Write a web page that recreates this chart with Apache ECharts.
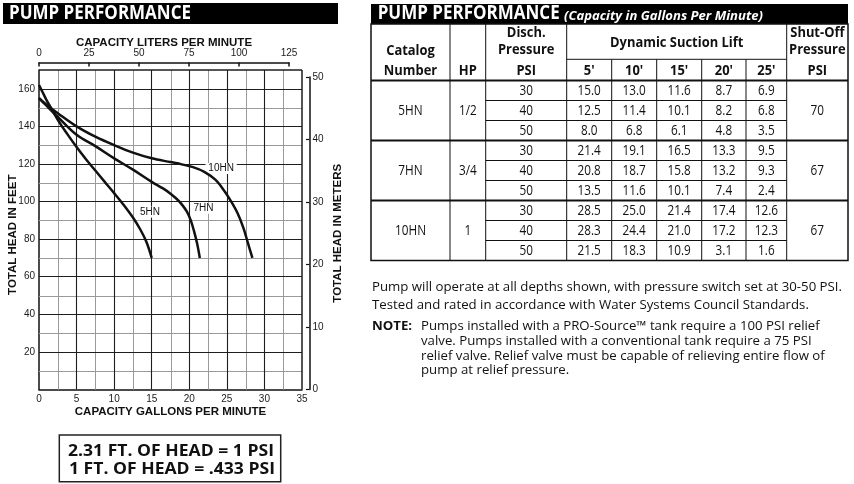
<!DOCTYPE html>
<html><head><meta charset="utf-8">
<script src="https://cdn.jsdelivr.net/npm/echarts@6/dist/echarts.min.js"></script>
<style>html,body{margin:0;padding:0;background:#fff}#c{width:854px;height:484px}</style>
</head><body><div id="c"></div>
<script>
// ---------------- DATA ----------------
// Pump curves: [gallons per minute, total head in feet]
const curve5HN = [[0,162],[0.5,158],[1,154],[1.5,150.5],[2.5,143.5],[3.75,136],[5,129],[6.25,122.5],[7.5,116.5],[8.75,110.5],[10,104.5],[11.25,98.3],[12.5,91.5],[13.5,85],[14.3,78.5],[15,70]];
const curve7HN = [[0,155],[1,151],[2.5,145],[5,135.5],[7.5,129.5],[10,123],[12.5,117],[15,110.5],[16.5,107],[17.5,104.2],[18.3,101.5],[19,98.5],[19.7,94.5],[20.2,90],[20.65,84],[21.05,77.5],[21.4,70]];
const curve10HN = [[0,155],[1,151.5],[2.5,147],[5,140],[7.5,134.5],[10,130],[12.5,126],[15,123],[17.5,121],[19,119.8],[20.5,118.3],[22,115.8],[23.5,111.5],[24.6,106],[25.5,100.5],[26.4,94],[27.2,86],[27.8,78],[28.4,70]];
const curveNames = ['5HN','7HN','10HN'];
const curveLabelAt = [[14.77,94.4],[21.9,96.4],[24.24,117.6]];
// Axis ticks
const gpmMax = 35, gpmStep = 5;
const feetMax = 170, feetStep = 20;
const meterMax = 50, meterStep = 10;
const literMax = 125, literStep = 25;

// Table
const chartTitle = 'PUMP PERFORMANCE';
const tableSubtitle = '(Capacity in Gallons Per Minute)';
const catalogs = ['5HN','7HN','10HN'];
const hpValues = ['1/2','3/4','1'];
const dischPsi = [30,40,50];
const liftHeaders = ["5'","10'","15'","20'","25'"];
const flow5HN  = [[15.0,13.0,11.6,8.7,6.9],[12.5,11.4,10.1,8.2,6.8],[8.0,6.8,6.1,4.8,3.5]];
const flow7HN  = [[21.4,19.1,16.5,13.3,9.5],[20.8,18.7,15.8,13.2,9.3],[13.5,11.6,10.1,7.4,2.4]];
const flow10HN = [[28.5,25.0,21.4,17.4,12.6],[28.3,24.4,21.0,17.2,12.3],[21.5,18.3,10.9,3.1,1.6]];
const shutOffPsi = [70,67,67];
const noteLines = [
  'Pump will operate at all depths shown, with pressure switch set at 30-50 PSI.',
  'Tested and rated in accordance with Water Systems Council Standards.'
];
const noteLabel = 'NOTE:';
const noteBody = [
  'Pumps installed with a PRO-Source\u2122 tank require a 100 PSI relief',
  'valve. Pumps installed with a conventional tank require a 75 PSI',
  'relief valve. Relief valve must be capable of relieving entire flow of',
  'pump at relief pressure.'
];
const conversionLines = ['2.31 FT. OF HEAD = 1 PSI','1 FT. OF HEAD = .433 PSI'];

// ---------------- LAYOUT ----------------
const AX = 'Liberation Sans, Arial, sans-serif';
const OS = '"Open Sans"';
const ctx = document.createElement('canvas').getContext('2d');
function mw(t, f){ ctx.font = f; return ctx.measureText(t).width; }
function T(text, x, y, font, sx, align, fill){
  return {type:'text', x:x, y:y, scaleX:sx, silent:true, z:10,
    style:{text:String(text), font:font, fill:fill||'#111', align:align||'center', verticalAlign:'middle'}};
}
function L(x1,y1,x2,y2,w,c,z){ return {type:'line', silent:true, z:z||9, shape:{x1,y1,x2,y2}, style:{stroke:c||'#111', lineWidth:w||1}}; }

const fTitle = 'bold 19px ' + OS, sTitle = 182 / mw(chartTitle, fTitle);
const fHead = 'bold 15px ' + OS, sHead = 48.7 / mw('Catalog', fHead);
const fData = '15px ' + OS, sData = 23.3 / mw('15.0', fData);
const fItal = 'italic bold 12.5px ' + OS, sItal = 199 / mw(tableSubtitle, fItal);
const fNote = '13px ' + OS, sNote = 470 / mw(noteLines[0], fNote);
const fNoteB = 'bold 13px ' + OS;
const fBox = 'bold 16px ' + OS, sBox = 206 / mw(conversionLines[0], fBox);

const colX = [371,450,485.7,566.7,611.7,656.7,701.7,746,786.7,848];
const tTop = 24, subY = 59.3, headBot = 80.5, rowH = 20, tBot = 260.5;
const g = [];
// title bars
g.push({type:'rect', silent:true, z:8, shape:{x:3,y:3,width:335,height:21}, style:{fill:'#000'}});
g.push(T(chartTitle, 9, 14, fTitle, sTitle, 'left', '#fff'));
g.push({type:'rect', silent:true, z:8, shape:{x:371,y:4,width:477,height:20}, style:{fill:'#000'}});
g.push(T(chartTitle, 377.7, 13.8, fTitle, sTitle, 'left', '#fff'));
g.push(T(tableSubtitle, 564, 16, fItal, sItal, 'left', '#fff'));
// table frame
g.push({type:'rect', silent:true, z:9, shape:{x:colX[0],y:tTop,width:colX[9]-colX[0],height:tBot-tTop}, style:{fill:null, stroke:'#111', lineWidth:1.5}});
[1,2,3,8].forEach(i => g.push(L(colX[i],tTop,colX[i],tBot,1)));
[4,5,6,7].forEach(i => g.push(L(colX[i],subY,colX[i],tBot,1)));
g.push(L(colX[3],subY,colX[8],subY,1));
g.push(L(colX[0],headBot,colX[9],headBot,2.2));
// headers
const cc = i => (colX[i]+colX[i+1])/2;
g.push(T('Catalog', cc(0), 51, fHead, sHead));
g.push(T('Number', cc(0), 70.5, fHead, sHead));
g.push(T('HP', cc(1), 70.5, fHead, sHead));
g.push(T('Disch.', cc(2), 33, fHead, sHead));
g.push(T('Pressure', cc(2), 49.5, fHead, sHead));
g.push(T('PSI', cc(2), 70.5, fHead, sHead));
g.push(T('Dynamic Suction Lift', (colX[3]+colX[8])/2, 43, fHead, sHead));
liftHeaders.forEach((h,i) => g.push(T(h, cc(3+i), 70.5, fHead, sHead)));
g.push(T('Shut-Off', cc(8), 33, fHead, sHead));
g.push(T('Pressure', cc(8), 49.5, fHead, sHead));
g.push(T('PSI', cc(8), 70.5, fHead, sHead));
// body
const flows = [flow5HN, flow7HN, flow10HN];
catalogs.forEach((cat, gi) => {
  const gTop = headBot + gi*3*rowH;
  if (gi > 0) g.push(L(colX[0], gTop, colX[9], gTop, 2.2));
  g.push(T(cat, cc(0), gTop + 1.5*rowH, fData, sData));
  g.push(T(hpValues[gi], cc(1), gTop + 1.5*rowH, fData, sData));
  g.push(T(shutOffPsi[gi], cc(8), gTop + 1.5*rowH, fData, sData));
  dischPsi.forEach((p, ri) => {
    const yc = gTop + ri*rowH + rowH/2;
    if (ri > 0) g.push(L(colX[2], gTop + ri*rowH, colX[8], gTop + ri*rowH, 1));
    g.push(T(p, cc(2), yc, fData, sData));
    flows[gi][ri].forEach((v, ci) => g.push(T(v.toFixed(1), cc(3+ci), yc, fData, sData)));
  });
});
// notes
g.push(T(noteLines[0], 372, 287, fNote, sNote, 'left'));
g.push(T(noteLines[1], 372, 305, fNote, sNote, 'left'));
g.push(T(noteLabel, 372, 326, fNoteB, sNote, 'left'));
const noteYs = [326, 341, 356, 370.5];
noteBody.forEach((t,i) => g.push(T(t, 421, noteYs[i], fNote, sNote, 'left')));
// conversion box
g.push({type:'rect', silent:true, z:9, shape:{x:59.3,y:435,width:221.4,height:46.7}, style:{fill:null, stroke:'#222', lineWidth:1.5}});
g.push(T(conversionLines[0], 171, 451.7, fBox, sBox));
g.push(T(conversionLines[1], 172, 469.3, fBox, sBox));

// ---------------- GRID LINE VALUES ----------------
const MAJOR = '#1e1e1e', MINOR = '#9a9a9a';
const minorX = [], minorY = [], gridMajor = [];
for (let v = gpmStep/2; v <= gpmMax + 1e-9; v += gpmStep/2) {
  const major = Math.abs(v/gpmStep - Math.round(v/gpmStep)) < 1e-6;
  if (major) gridMajor.push({xAxis:v, lineStyle:{color:MAJOR, width: v === gpmMax ? 1.5 : 1.1, type:'solid'}});
  else minorX.push(v);
}
for (let v = feetStep/2; v <= feetMax; v += feetStep/2) {
  const major = v % feetStep === 0 || v === feetMax;
  if (major) gridMajor.push({yAxis:v, lineStyle:{color:MAJOR, width: v === feetMax ? 1.5 : 1.1, type:'solid'}});
  else minorY.push(v);
}
const gridSeries = {type:'line', xAxisIndex:0, yAxisIndex:0, data:[], z:2, silent:true,
  markLine:{silent:true, symbol:['none','none'], label:{show:false}, animation:false, data:gridMajor}};

// ---------------- CHART ----------------
const nameStyle = {fontFamily:AX, fontWeight:'bold', fontSize:11.5, color:'#111'};
const lblStyle = {fontFamily:AX, fontSize:10, color:'#1a1a1a'};
const seriesData = [curve5HN, curve7HN, curve10HN];
const option = {
  animation:false,
  backgroundColor:'#fff',
  grid:[
    {left:39, top:70, width:263, height:319.5, show:false},
    {left:300, top:77, width:9.5, height:312.5},
    {left:39, top:62.5, width:250, height:10}
  ],
  xAxis:[
    {gridIndex:0, type:'value', min:0, max:gpmMax, interval:gpmStep, z:3,
     axisLine:{show:true, onZero:false, lineStyle:{color:'#111', width:1.5}},
     axisTick:{show:false}, axisLabel:Object.assign({margin:5}, lblStyle),
     splitLine:{show:false},
     name:'CAPACITY GALLONS PER MINUTE', nameLocation:'middle', nameGap:16, nameMoveOverlap:false, nameTextStyle:nameStyle},
    {gridIndex:1, type:'value', min:0, max:1, show:false},
    {gridIndex:2, type:'value', position:'top', min:0, max:literMax, interval:literStep,
     axisLine:{show:true, onZero:false, lineStyle:{color:'#111', width:1.5}},
     axisTick:{show:true, inside:true, length:4, lineStyle:{color:'#111', width:1.5}},
     axisLabel:Object.assign({margin:4}, lblStyle), splitLine:{show:false},
     name:'CAPACITY LITERS PER MINUTE', nameLocation:'middle', nameGap:14, nameMoveOverlap:false, nameTextStyle:nameStyle}
  ],
  yAxis:[
    {gridIndex:0, type:'value', position:'left', min:0, max:feetMax, interval:feetStep, z:3,
     axisLine:{show:true, onZero:false, lineStyle:{color:'#111', width:1.5}}, axisTick:{show:false},
     axisLabel:Object.assign({margin:4, formatter:v => (v > 0 && v < feetMax) ? String(v) : ''}, lblStyle),
     splitLine:{show:false},
     name:'TOTAL HEAD IN FEET', nameLocation:'middle', nameRotate:90, nameGap:20, nameMoveOverlap:false,
     nameTextStyle:Object.assign({padding:[0,10,0,0]}, nameStyle)},
    {gridIndex:1, type:'value', position:'right', min:0, max:meterMax, interval:meterStep,
     axisLine:{show:true, onZero:false, lineStyle:{color:'#111', width:1.5}},
     axisTick:{show:true, inside:true, length:3.5, lineStyle:{color:'#111', width:1.2}},
     axisLabel:Object.assign({margin:3}, lblStyle), splitLine:{show:false},
     name:'TOTAL HEAD IN METERS', nameLocation:'middle', nameRotate:90, nameGap:22.5, nameMoveOverlap:false, nameTextStyle:nameStyle},
    {gridIndex:2, type:'value', min:0, max:1, show:false}
  ],
  series: [gridSeries].concat(seriesData.map((d, i) => ({
    type:'line', xAxisIndex:0, yAxisIndex:0, data:d, smooth:0.35,
    symbol:'none', z:5, lineStyle:{color:'#111', width:2.5}, silent:true,
    markPoint:{symbol:'rect', symbolSize:[curveNames[i].length*6.8+4, 11], silent:true,
      itemStyle:{color:'#fff'},
      label:{show:true, position:'inside', formatter:'{b}', color:'#111', fontFamily:AX, fontSize:10},
      data:[{name:curveNames[i], coord:curveLabelAt[i]}]}
  }))),
  graphic:{elements:g}
};
const chart = echarts.init(document.getElementById('c'), null, {renderer:'canvas', width:854, height:484});
chart.setOption(option);

// Minor grid lines, positioned through the chart's own axis scales
const px = v => chart.convertToPixel({xAxisIndex:0}, v);
const py = v => chart.convertToPixel({yAxisIndex:0}, v);
const x0 = px(0), x1 = px(gpmMax), y0 = py(0), y1 = py(feetMax);
const minorEls = [];
minorX.forEach(v => { const x = Math.round(px(v)) + 0.5; minorEls.push(L(x, y1, x, y0, 1, MINOR, 4)); });
minorY.forEach(v => { const y = Math.round(py(v)) + 0.5; minorEls.push(L(x0, y, x1, y, 1, MINOR, 4)); });
chart.setOption({graphic:{elements:g.concat(minorEls)}});
</script></body></html>
